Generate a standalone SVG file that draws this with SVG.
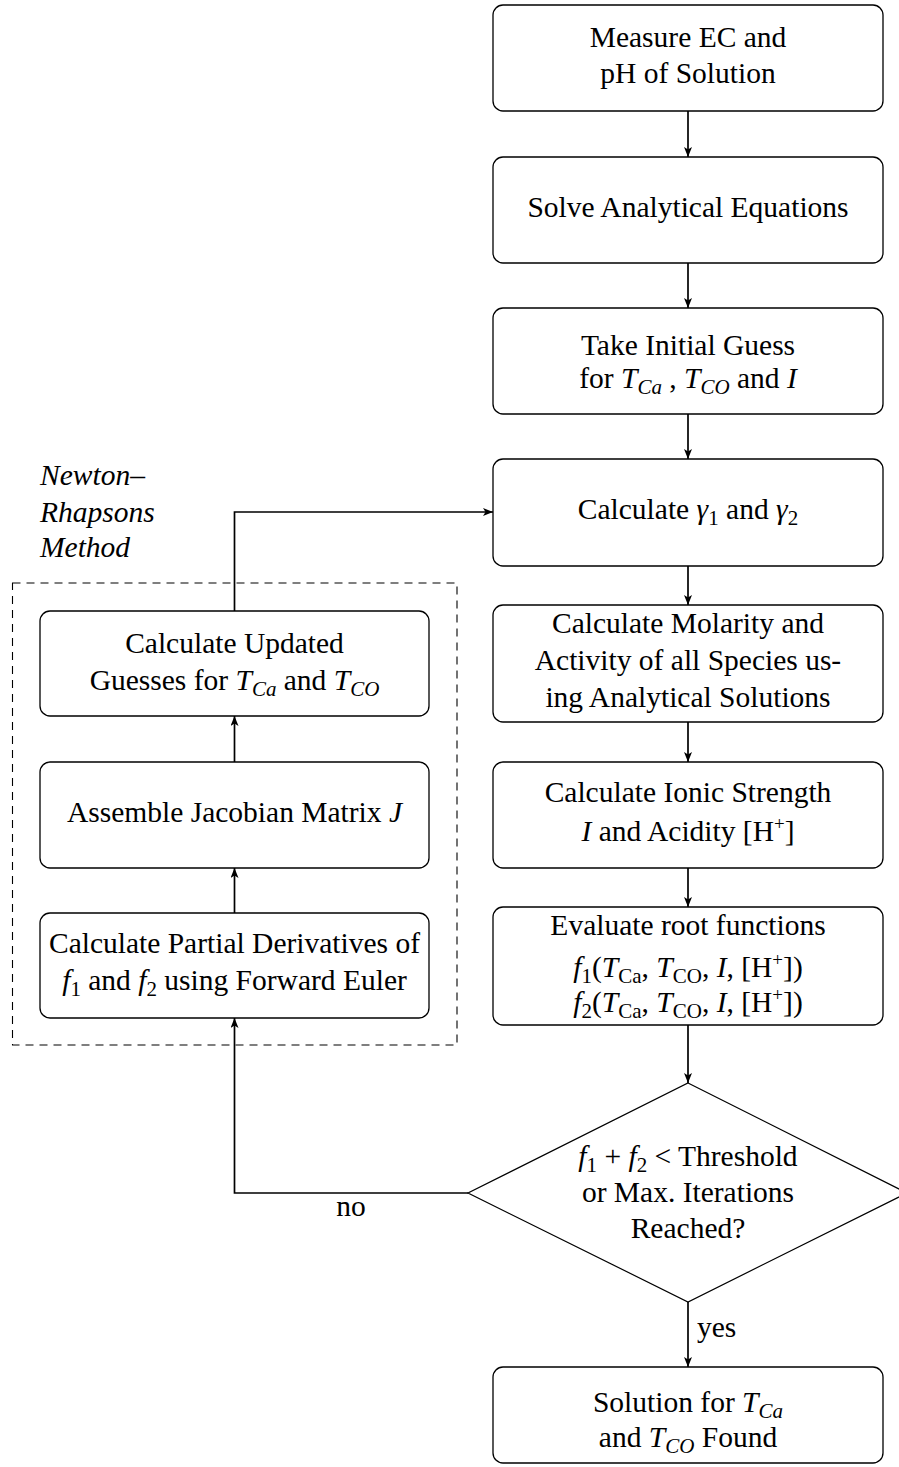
<svg xmlns="http://www.w3.org/2000/svg" width="899" height="1467" viewBox="0 0 899 1467">
<style>
.box{fill:#fff;stroke:#000;stroke-width:1.3}
.dec{fill:#fff;stroke:#000;stroke-width:1.2}
.con{fill:none;stroke:#000;stroke-width:1.7}
.dash{fill:none;stroke:#000;stroke-width:1.1;stroke-dasharray:8 6}
text{font-family:"Liberation Serif","DejaVu Serif",serif;font-size:29.5px;fill:#000;text-anchor:middle}
.st{text-anchor:start}
.i{font-style:italic}
.sub{font-size:21px}
.sup{font-size:19px}
</style>
<defs>
<marker id="ah" viewBox="0 0 10 8" refX="10" refY="4" markerWidth="10" markerHeight="8" markerUnits="userSpaceOnUse" orient="auto">
<path d="M0,0 L10,4 L0,8 L2.5,4 z" fill="#000"/>
</marker>
</defs>
<g id="loop-frame">
<rect class="dash" x="12.5" y="583" width="444.5" height="462"/>
<text class="st i" x="40" y="485">Newton–</text>
<text class="st i" x="40" y="522">Rhapsons</text>
<text class="st i" x="40" y="557">Method</text>
</g>
<g id="connectors">
<line class="con" x1="688" y1="111" x2="688" y2="157" marker-end="url(#ah)"/>
<line class="con" x1="688" y1="263" x2="688" y2="308" marker-end="url(#ah)"/>
<line class="con" x1="688" y1="414" x2="688" y2="459" marker-end="url(#ah)"/>
<line class="con" x1="688" y1="566" x2="688" y2="605" marker-end="url(#ah)"/>
<line class="con" x1="688" y1="722" x2="688" y2="762" marker-end="url(#ah)"/>
<line class="con" x1="688" y1="868" x2="688" y2="907" marker-end="url(#ah)"/>
<line class="con" x1="688" y1="1025" x2="688" y2="1083" marker-end="url(#ah)"/>
<line class="con" x1="688" y1="1302" x2="688" y2="1367" marker-end="url(#ah)"/>
<text class="st" x="697" y="1337">yes</text>
<polyline class="con" points="468,1193 234.5,1193 234.5,1018" marker-end="url(#ah)"/>
<text x="351" y="1216">no</text>
<line class="con" x1="234.5" y1="913" x2="234.5" y2="868" marker-end="url(#ah)"/>
<line class="con" x1="234.5" y1="762" x2="234.5" y2="716" marker-end="url(#ah)"/>
<polyline class="con" points="234.5,611 234.5,512 493,512" marker-end="url(#ah)"/>
</g>
<g id="measure">
<rect class="box" x="493" y="5" width="390" height="106" rx="10"/>
<text x="688" y="47">Measure EC and</text>
<text x="688" y="83">pH of Solution</text>
</g>
<g id="solve">
<rect class="box" x="493" y="157" width="390" height="106" rx="10"/>
<text x="688" y="217">Solve Analytical Equations</text>
</g>
<g id="guess">
<rect class="box" x="493" y="308" width="390" height="106" rx="10"/>
<text x="688" y="355">Take Initial Guess</text>
<text x="688" y="388">for <tspan class="i">T</tspan><tspan class="sub i" dy="6">Ca</tspan><tspan dy="-6"> , </tspan><tspan class="i">T</tspan><tspan class="sub i" dy="6">CO</tspan><tspan dy="-6"> and </tspan><tspan class="i">I</tspan></text>
</g>
<g id="gamma">
<rect class="box" x="493" y="459" width="390" height="107" rx="10"/>
<text x="688" y="519">Calculate <tspan class="i">γ</tspan><tspan class="sub" dy="6">1</tspan><tspan dy="-6"> and </tspan><tspan class="i">γ</tspan><tspan class="sub" dy="6">2</tspan></text>
</g>
<g id="molarity">
<rect class="box" x="493" y="605" width="390" height="117" rx="10"/>
<text x="688" y="633">Calculate Molarity and</text>
<text x="688" y="670">Activity of all Species us-</text>
<text x="688" y="707">ing Analytical Solutions</text>
</g>
<g id="ionic">
<rect class="box" x="493" y="762" width="390" height="106" rx="10"/>
<text x="688" y="802">Calculate Ionic Strength</text>
<text x="688" y="841"><tspan class="i">I</tspan> and Acidity [H<tspan class="sup" dy="-11">+</tspan><tspan dy="11">]</tspan></text>
</g>
<g id="evaluate">
<rect class="box" x="493" y="907" width="390" height="118" rx="10"/>
<text x="688" y="935">Evaluate root functions</text>
<text x="688" y="977"><tspan class="i">f</tspan><tspan class="sub" dy="6">1</tspan><tspan dy="-6">(</tspan><tspan class="i">T</tspan><tspan class="sub" dy="6">Ca</tspan><tspan dy="-6">, </tspan><tspan class="i">T</tspan><tspan class="sub" dy="6">CO</tspan><tspan dy="-6">, </tspan><tspan class="i">I</tspan><tspan>, [H</tspan><tspan class="sup" dy="-11">+</tspan><tspan dy="11">])</tspan></text>
<text x="688" y="1012"><tspan class="i">f</tspan><tspan class="sub" dy="6">2</tspan><tspan dy="-6">(</tspan><tspan class="i">T</tspan><tspan class="sub" dy="6">Ca</tspan><tspan dy="-6">, </tspan><tspan class="i">T</tspan><tspan class="sub" dy="6">CO</tspan><tspan dy="-6">, </tspan><tspan class="i">I</tspan><tspan>, [H</tspan><tspan class="sup" dy="-11">+</tspan><tspan dy="11">])</tspan></text>
</g>
<g id="decision">
<polygon class="dec" points="688,1083 907,1193 688,1302 468,1193"/>
<text x="688" y="1166"><tspan class="i">f</tspan><tspan class="sub" dy="6">1</tspan><tspan dy="-6"> + </tspan><tspan class="i">f</tspan><tspan class="sub" dy="6">2</tspan><tspan dy="-6"> &lt; Threshold</tspan></text>
<text x="688" y="1202">or Max. Iterations</text>
<text x="688" y="1238">Reached?</text>
</g>
<g id="solution">
<rect class="box" x="493" y="1367" width="390" height="96" rx="10"/>
<text x="688" y="1412">Solution for <tspan class="i">T</tspan><tspan class="sub i" dy="6">Ca</tspan></text>
<text x="688" y="1447">and <tspan class="i">T</tspan><tspan class="sub i" dy="6">CO</tspan><tspan dy="-6"> Found</tspan></text>
</g>
<g id="update">
<rect class="box" x="40" y="611" width="389" height="105" rx="10"/>
<text x="234.5" y="653">Calculate Updated</text>
<text x="234.5" y="690">Guesses for <tspan class="i">T</tspan><tspan class="sub i" dy="6">Ca</tspan><tspan dy="-6"> and </tspan><tspan class="i">T</tspan><tspan class="sub i" dy="6">CO</tspan></text>
</g>
<g id="jacobian">
<rect class="box" x="40" y="762" width="389" height="106" rx="10"/>
<text x="234.5" y="822">Assemble Jacobian Matrix <tspan class="i">J</tspan></text>
</g>
<g id="partials">
<rect class="box" x="40" y="913" width="389" height="105" rx="10"/>
<text x="234.5" y="953">Calculate Partial Derivatives of</text>
<text x="234.5" y="990"><tspan class="i">f</tspan><tspan class="sub" dy="6">1</tspan><tspan dy="-6"> and </tspan><tspan class="i">f</tspan><tspan class="sub" dy="6">2</tspan><tspan dy="-6"> using Forward Euler</tspan></text>
</g>
</svg>
